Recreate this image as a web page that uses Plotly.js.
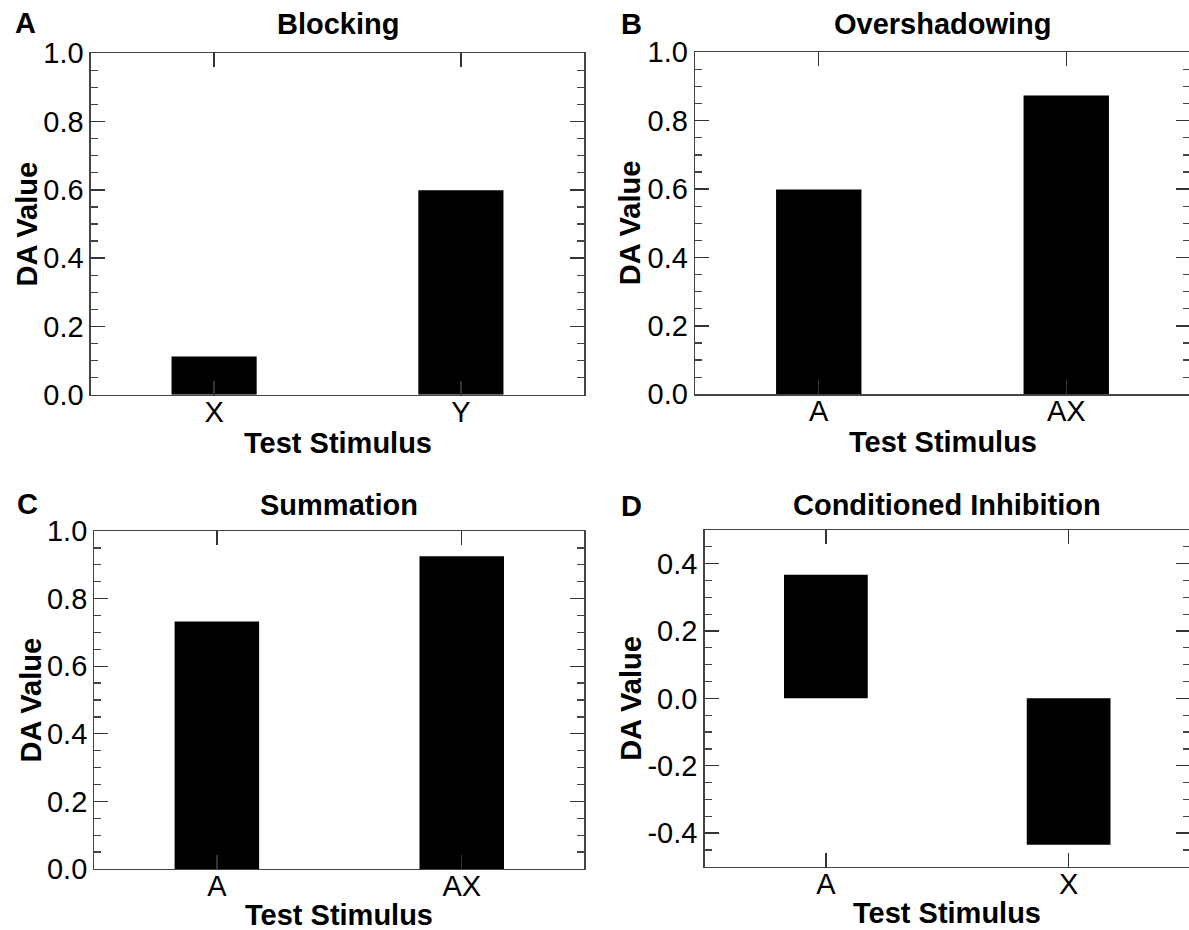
<!DOCTYPE html>
<html>
<head>
<meta charset="utf-8">
<script src="https://cdn.plot.ly/plotly-3.0.1.min.js"></script>
<style>
  html, body { margin: 0; padding: 0; background: #fff; overflow: hidden; }
  #chart { width: 1191px; height: 930px; }
</style>
</head>
<body>
<div id="chart"></div>
<script>
// ---- Data ----
const panelLetters = ["A", "B", "C", "D"];
const panelTitles = ["Blocking", "Overshadowing", "Summation", "Conditioned Inhibition"];
const xTitle = "Test Stimulus";
const yTitle = "DA Value";

const catsA = ["X", "Y"];
const valsA = [0.112, 0.599];
const catsB = ["A", "AX"];
const valsB = [0.599, 0.874];
const catsC = ["A", "AX"];
const valsC = [0.732, 0.925];
const catsD = ["A", "X"];
const valsD = [0.367, -0.435];

const yTickVals = [0.0, 0.2, 0.4, 0.6, 0.8, 1.0];
const yTickText = ["0.0", "0.2", "0.4", "0.6", "0.8", "1.0"];
const yTickValsD = [-0.4, -0.2, 0.0, 0.2, 0.4];
const yTickTextD = ["-0.4", "-0.2", "0.0", "0.2", "0.4"];

// ---- Layout helpers ----
const W = 1191, H = 930;
const FONT = "Liberation Sans, Arial, Helvetica, sans-serif";
const px = v => v / W;
const py = v => (H - v) / H;

const boxes = [
  {l: 90.7, r: 584.3, t: 53.3, b: 394.7},
  {l: 695, r: 1190, t: 52.3, b: 394.3},
  {l: 94.4, r: 584.2, t: 531, b: 869},
  {l: 704.5, r: 1190, t: 530, b: 866.7}
];

const cats = [catsA, catsB, catsC, catsD];
const vals = [valsA, valsB, valsC, valsD];

const traces = cats.map((c, i) => ({
  type: "bar",
  x: c,
  y: vals[i],
  width: 0.345,
  marker: {color: "#000", line: {width: 0}},
  xaxis: i === 0 ? "x" : "x" + (i + 1),
  yaxis: i === 0 ? "y" : "y" + (i + 1),
  hoverinfo: "skip",
  showlegend: false
}));

const layout = {
  width: W, height: H,
  margin: {l: 0, r: 0, t: 0, b: 0},
  paper_bgcolor: "#fff",
  plot_bgcolor: "#fff",
  font: {family: FONT, color: "#000"},
  showlegend: false,
  annotations: []
};

const letterPos = [{x: 13, y: 23}, {x: 619, y: 23.5}, {x: 15, y: 504}, {x: 619, y: 506}];
const titleY = [23.5, 23.5, 505, 505];
const yTitleX = [26.5, 630, 30.5, 631.5];
const xTitleOff = [48, 48, 45.5, 46];

boxes.forEach((bx, i) => {
  const sfx = i === 0 ? "" : String(i + 1);
  const isD = i === 3;
  layout["xaxis" + sfx] = {
    domain: [px(bx.l), px(bx.r)],
    anchor: "y" + sfx,
    type: "category",
    range: [-0.5, 1.5],
    showline: true, linecolor: "#444", linewidth: 1.3,
    mirror: "allticks",
    ticks: "inside", ticklen: 14, tickwidth: 1.3, tickcolor: "#333",
    ticklabelstandoff: -9,
    showgrid: false, zeroline: false,
    tickfont: {size: 29, family: FONT, color: "#000"},
    fixedrange: true
  };
  layout["yaxis" + sfx] = {
    domain: [py(bx.b), py(bx.t)],
    anchor: "x" + sfx,
    range: isD ? [-0.5, 0.5] : [0, 1],
    tickmode: "array",
    tickvals: isD ? yTickValsD : yTickVals,
    ticktext: isD ? yTickTextD : yTickText,
    showline: true, linecolor: "#444", linewidth: 1.3,
    mirror: "allticks",
    ticks: "inside", ticklen: 14, tickwidth: 1.3, tickcolor: "#333",
    minor: {tickmode: "linear", tick0: 0, dtick: 0.05, ticks: "inside", ticklen: 7, tickwidth: 1.3, tickcolor: "#444", showgrid: false},
    showgrid: false, zeroline: false,
    tickfont: {size: 29, family: FONT, color: "#000"},
    fixedrange: true
  };
  // panel letter
  layout.annotations.push({
    xref: "paper", yref: "paper",
    x: px(letterPos[i].x), y: py(letterPos[i].y),
    xanchor: "left", yanchor: "middle",
    text: "<b>" + panelLetters[i] + "</b>",
    showarrow: false,
    font: {size: 29, family: FONT, color: "#000"}
  });
  // panel title
  layout.annotations.push({
    xref: "paper", yref: "paper",
    x: px((bx.l + bx.r) / 2), y: py(titleY[i]),
    xanchor: "center", yanchor: "middle",
    text: "<b>" + panelTitles[i] + "</b>",
    showarrow: false,
    font: {size: 29, family: FONT, color: "#000"}
  });
  // x-axis title
  layout.annotations.push({
    xref: "paper", yref: "paper",
    x: px((bx.l + bx.r) / 2), y: py(bx.b + xTitleOff[i]),
    xanchor: "center", yanchor: "middle",
    text: "<b>" + xTitle + "</b>",
    showarrow: false,
    borderpad: 0,
    font: {size: 29, family: FONT, color: "#000"}
  });
  // y-axis title
  layout.annotations.push({
    xref: "paper", yref: "paper",
    x: px(yTitleX[i]), y: py((bx.t + bx.b) / 2),
    xanchor: "center", yanchor: "middle",
    textangle: -90,
    text: "<b>" + yTitle + "</b>",
    showarrow: false,
    font: {size: 29, family: FONT, color: "#000"}
  });
});

Plotly.newPlot("chart", traces, layout, {displayModeBar: false, staticPlot: true});
</script>
</body>
</html>
